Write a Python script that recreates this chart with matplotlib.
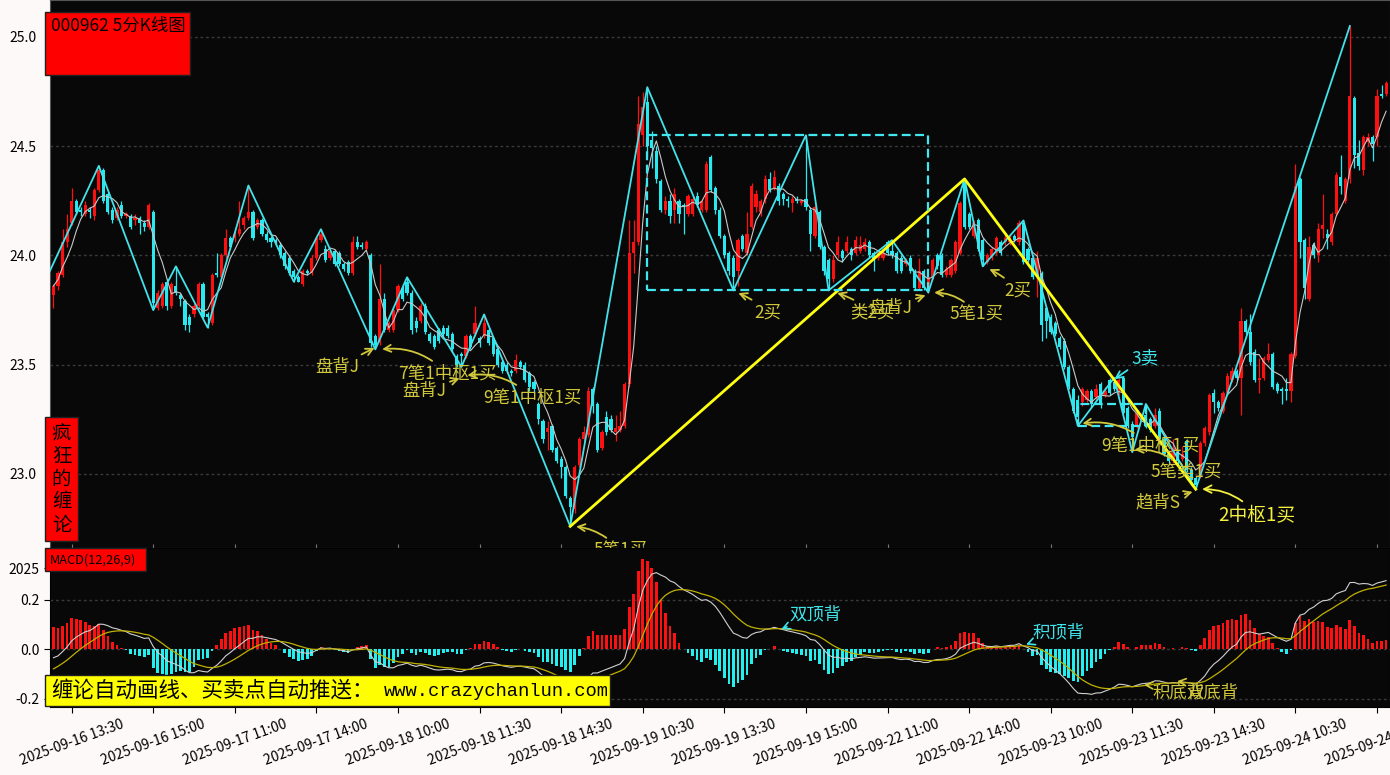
import numpy as np
import pandas as pd
import matplotlib
matplotlib.use('Agg')
import matplotlib.pyplot as plt
from matplotlib.patches import Rectangle

plt.rcParams['font.family'] = ['Noto Sans CJK SC', 'DejaVu Sans']
plt.rcParams['axes.unicode_minus'] = False

days = ['2025-09-16', '2025-09-17', '2025-09-18', '2025-09-19',
        '2025-09-22', '2025-09-23', '2025-09-24']
first_bar = '2025-09-16 13:10'

opens = [
    23.82, 23.86, 23.91, 24.06, 24.15, 24.25, 24.21, 24.19, 24.21, 24.18,
    24.30, 24.39, 24.28, 24.21, 24.17, 24.23, 24.18, 24.18, 24.16, 24.17,
    24.15, 24.13, 24.20, 23.76, 23.77, 23.88, 23.77, 23.86, 23.82, 23.79,
    23.72, 23.73, 23.77, 23.87, 23.73, 23.69, 23.92, 23.90, 24.00, 24.08,
    24.08, 24.10, 24.14, 24.17, 24.20, 24.13, 24.16, 24.10, 24.08, 24.07,
    24.05, 24.01, 23.99, 23.93, 23.90, 23.87, 23.93, 23.92, 23.99, 24.07,
    24.03, 23.99, 24.02, 24.01, 23.96, 23.97, 23.92, 24.06, 24.05, 24.03,
    24.00, 23.63, 23.60, 23.80, 23.66, 23.66, 23.75, 23.85, 23.88, 23.83,
    23.70, 23.70, 23.77, 23.64, 23.63, 23.66, 23.67, 23.67, 23.64, 23.54,
    23.55, 23.54, 23.63, 23.64, 23.62, 23.63, 23.66, 23.62, 23.57, 23.51,
    23.50, 23.47, 23.47, 23.51, 23.50, 23.46, 23.42, 23.32, 23.24, 23.19,
    23.22, 23.12, 23.07, 23.03, 22.89, 22.84, 23.04, 23.16, 23.18, 23.39,
    23.32, 23.12, 23.26, 23.25, 23.19, 23.20, 23.22, 23.41, 24.01, 24.06,
    24.55, 24.70, 24.53, 24.48, 24.34, 24.21, 24.25, 24.21, 24.25, 24.23,
    24.19, 24.19, 24.27, 24.21, 24.21, 24.45, 24.31, 24.21, 24.09, 24.01,
    23.99, 23.93, 24.09, 24.01, 24.13, 24.22, 24.20, 24.26, 24.35, 24.31,
    24.32, 24.28, 24.26, 24.24, 24.26, 24.24, 24.26, 24.21, 24.09, 24.20,
    24.04, 23.98, 23.89, 24.00, 24.02, 24.02, 24.03, 24.01, 24.02, 24.03,
    24.06, 24.01, 23.99, 23.99, 24.06, 24.02, 24.01, 23.99, 23.96, 23.99,
    23.93, 23.85, 23.93, 23.84, 23.90, 24.00, 24.00, 23.91, 23.91, 23.93,
    24.01, 24.33, 24.19, 24.09, 24.16, 24.07, 23.97, 23.99, 24.01, 24.06,
    24.06, 24.06, 24.09, 24.06, 24.15, 24.03, 23.99, 23.91, 23.92, 23.76,
    23.72, 23.69, 23.62, 23.61, 23.49, 23.39, 23.34, 23.33, 23.34, 23.38,
    23.35, 23.41, 23.36, 23.43, 23.42, 23.37, 23.44, 23.30, 23.23, 23.22,
    23.25, 23.27, 23.25, 23.22, 23.29, 23.16, 23.09, 23.06, 23.10, 23.07,
    23.15, 23.02, 22.98, 22.99, 23.14, 23.19, 23.37, 23.33, 23.29, 23.37,
    23.43, 23.47, 23.44, 23.70, 23.65, 23.56, 23.43, 23.44, 23.52, 23.55,
    23.41, 23.39, 23.39, 23.38, 23.54, 24.35, 24.07, 23.80, 24.05, 24.00,
    24.12, 24.10, 24.06, 24.19, 24.36, 24.25, 24.35, 24.72, 24.47, 24.39,
    24.52, 24.54, 24.54, 24.74, 24.74]

closes = [
    23.86, 23.92, 24.06, 24.12, 24.25, 24.20, 24.20, 24.23, 24.20, 24.30,
    24.39, 24.25, 24.20, 24.16, 24.21, 24.18, 24.19, 24.13, 24.17, 24.15,
    24.13, 24.23, 23.78, 23.83, 23.87, 23.77, 23.87, 23.83, 23.80, 23.68,
    23.68, 23.77, 23.87, 23.72, 23.72, 23.91, 23.91, 24.00, 24.08, 24.04,
    24.10, 24.12, 24.17, 24.20, 24.08, 24.16, 24.10, 24.07, 24.06, 24.06,
    24.00, 23.95, 23.92, 23.90, 23.88, 23.93, 23.92, 23.99, 24.08, 24.10,
    23.98, 24.02, 23.96, 23.96, 23.94, 23.92, 24.06, 24.04, 24.04, 24.06,
    23.60, 23.59, 23.80, 23.66, 23.69, 23.75, 23.86, 23.80, 23.83, 23.66,
    23.67, 23.77, 23.65, 23.61, 23.58, 23.61, 23.64, 23.63, 23.57, 23.50,
    23.54, 23.63, 23.58, 23.69, 23.60, 23.69, 23.60, 23.55, 23.50, 23.47,
    23.47, 23.46, 23.52, 23.49, 23.43, 23.40, 23.39, 23.25, 23.16, 23.21,
    23.11, 23.06, 23.03, 22.90, 22.85, 23.03, 23.16, 23.19, 23.38, 23.31,
    23.11, 23.19, 23.19, 23.20, 23.21, 23.22, 23.41, 24.01, 24.06, 24.60,
    24.68, 24.50, 24.49, 24.35, 24.21, 24.25, 24.18, 24.28, 24.19, 24.22,
    24.27, 24.26, 24.23, 24.25, 24.42, 24.30, 24.21, 24.09, 24.00, 23.93,
    23.90, 24.07, 24.03, 24.10, 24.32, 24.28, 24.25, 24.35, 24.30, 24.36,
    24.25, 24.26, 24.25, 24.26, 24.25, 24.25, 24.22, 24.10, 24.22, 24.04,
    23.93, 23.89, 23.98, 24.06, 23.99, 24.06, 24.00, 24.07, 24.05, 24.06,
    24.00, 23.98, 24.01, 24.01, 24.01, 24.00, 23.93, 23.93, 23.98, 23.93,
    23.85, 23.93, 23.85, 23.90, 23.98, 23.95, 23.91, 23.94, 23.98, 24.06,
    24.24, 24.13, 24.13, 24.15, 24.03, 23.98, 24.00, 24.03, 24.08, 24.01,
    24.08, 24.09, 24.07, 24.15, 23.97, 23.98, 23.90, 23.99, 23.68, 23.70,
    23.65, 23.64, 23.58, 23.49, 23.40, 23.29, 23.26, 23.39, 23.38, 23.32,
    23.39, 23.32, 23.38, 23.37, 23.39, 23.43, 23.28, 23.22, 23.17, 23.28,
    23.27, 23.22, 23.20, 23.27, 23.16, 23.09, 23.06, 23.12, 23.06, 23.09,
    23.02, 22.97, 22.95, 23.14, 23.21, 23.36, 23.33, 23.30, 23.37, 23.45,
    23.47, 23.44, 23.70, 23.65, 23.51, 23.43, 23.44, 23.53, 23.55, 23.40,
    23.38, 23.38, 23.38, 23.55, 24.32, 24.06, 23.85, 24.04, 24.00, 24.12,
    24.14, 24.08, 24.19, 24.37, 24.32, 24.35, 24.73, 24.46, 24.41, 24.54,
    24.54, 24.51, 24.73, 24.73, 24.79]

highs = [
    23.87, 23.93, 24.12, 24.19, 24.31, 24.26, 24.22, 24.25, 24.22, 24.31,
    24.41, 24.40, 24.29, 24.22, 24.22, 24.25, 24.20, 24.19, 24.19, 24.18,
    24.16, 24.24, 24.21, 23.84, 23.88, 23.89, 23.88, 23.95, 23.83, 23.80,
    23.73, 23.78, 23.88, 23.88, 23.74, 23.92, 24.01, 24.01, 24.12, 24.09,
    24.11, 24.25, 24.18, 24.32, 24.21, 24.17, 24.17, 24.11, 24.09, 24.08,
    24.06, 24.02, 24.00, 23.94, 23.91, 23.94, 23.94, 24.00, 24.09, 24.12,
    24.05, 24.03, 24.03, 24.02, 23.97, 23.98, 24.09, 24.09, 24.06, 24.07,
    24.01, 23.64, 23.96, 23.83, 23.70, 23.76, 23.87, 23.87, 23.90, 23.84,
    23.72, 23.78, 23.78, 23.65, 23.64, 23.67, 23.68, 23.68, 23.65, 23.55,
    23.56, 23.64, 23.64, 23.77, 23.63, 23.73, 23.67, 23.63, 23.58, 23.52,
    23.51, 23.48, 23.55, 23.52, 23.51, 23.47, 23.43, 23.33, 23.25, 23.24,
    23.23, 23.13, 23.08, 23.04, 22.90, 23.04, 23.17, 23.22, 23.40, 23.40,
    23.33, 23.20, 23.29, 23.27, 23.27, 23.29, 23.42, 24.16, 24.16, 24.73,
    24.75, 24.77, 24.57, 24.50, 24.35, 24.27, 24.28, 24.31, 24.26, 24.24,
    24.28, 24.27, 24.29, 24.26, 24.43, 24.46, 24.32, 24.22, 24.10, 24.02,
    24.00, 24.08, 24.10, 24.20, 24.33, 24.30, 24.26, 24.37, 24.38, 24.39,
    24.33, 24.29, 24.27, 24.27, 24.27, 24.26, 24.55, 24.22, 24.23, 24.21,
    24.05, 23.99, 24.00, 24.09, 24.03, 24.09, 24.04, 24.09, 24.09, 24.08,
    24.07, 24.02, 24.02, 24.03, 24.07, 24.07, 24.02, 24.00, 23.99, 24.00,
    23.94, 23.99, 23.94, 23.91, 23.99, 24.01, 24.01, 23.95, 23.99, 24.07,
    24.25, 24.35, 24.20, 24.16, 24.17, 24.08, 24.01, 24.04, 24.09, 24.07,
    24.10, 24.10, 24.10, 24.16, 24.16, 24.04, 24.00, 24.02, 23.93, 23.77,
    23.73, 23.70, 23.63, 23.62, 23.50, 23.40, 23.36, 23.40, 23.39, 23.39,
    23.41, 23.42, 23.40, 23.44, 23.44, 23.44, 23.45, 23.31, 23.24, 23.29,
    23.28, 23.32, 23.26, 23.30, 23.30, 23.17, 23.10, 23.16, 23.11, 23.13,
    23.16, 23.03, 22.99, 23.15, 23.22, 23.37, 23.39, 23.34, 23.38, 23.46,
    23.49, 23.48, 23.76, 23.71, 23.73, 23.57, 23.53, 23.54, 23.60, 23.56,
    23.42, 23.40, 23.44, 23.56, 24.42, 24.36, 24.08, 24.09, 24.06, 24.15,
    24.28, 24.12, 24.20, 24.38, 24.46, 24.36, 25.05, 24.73, 24.53, 24.55,
    24.56, 24.55, 24.76, 24.78, 24.80]

lows = [
    23.76, 23.84, 23.90, 24.04, 24.14, 24.19, 24.18, 24.18, 24.17, 24.16,
    24.29, 24.24, 24.19, 24.15, 24.16, 24.17, 24.17, 24.12, 24.14, 24.10,
    24.11, 24.12, 23.75, 23.75, 23.76, 23.75, 23.76, 23.82, 23.77, 23.66,
    23.65, 23.72, 23.76, 23.71, 23.67, 23.68, 23.90, 23.89, 23.99, 24.03,
    24.06, 24.09, 24.12, 24.16, 24.07, 24.12, 24.09, 24.06, 24.04, 24.05,
    23.99, 23.94, 23.91, 23.88, 23.88, 23.86, 23.91, 23.91, 23.98, 24.06,
    23.97, 23.98, 23.95, 23.95, 23.93, 23.91, 23.91, 24.03, 24.03, 24.02,
    23.58, 23.57, 23.59, 23.65, 23.65, 23.65, 23.74, 23.79, 23.82, 23.64,
    23.65, 23.69, 23.64, 23.60, 23.57, 23.60, 23.63, 23.62, 23.56, 23.49,
    23.49, 23.53, 23.57, 23.63, 23.58, 23.62, 23.59, 23.54, 23.49, 23.46,
    23.46, 23.45, 23.46, 23.48, 23.42, 23.38, 23.37, 23.23, 23.14, 23.11,
    23.10, 23.05, 22.98, 22.89, 22.76, 22.82, 23.03, 23.15, 23.17, 23.28,
    23.10, 23.11, 23.18, 23.19, 23.15, 23.19, 23.21, 23.40, 23.92, 24.05,
    24.50, 24.45, 24.40, 24.33, 24.20, 24.19, 24.15, 24.15, 24.15, 24.10,
    24.18, 24.18, 24.22, 24.20, 24.20, 24.29, 24.19, 24.08, 23.99, 23.91,
    23.84, 23.86, 24.02, 24.00, 24.12, 24.20, 24.18, 24.24, 24.29, 24.30,
    24.23, 24.23, 24.22, 24.20, 24.24, 24.23, 24.21, 24.02, 24.08, 24.03,
    23.91, 23.84, 23.88, 23.99, 23.97, 24.01, 23.98, 24.00, 24.01, 24.02,
    23.99, 23.93, 23.98, 23.98, 24.00, 23.99, 23.92, 23.92, 23.95, 23.92,
    23.84, 23.84, 23.84, 23.83, 23.89, 23.94, 23.90, 23.90, 23.90, 23.92,
    24.00, 24.12, 24.12, 24.08, 24.02, 23.95, 23.96, 23.98, 24.00, 24.00,
    24.05, 24.05, 24.06, 24.05, 23.96, 23.97, 23.89, 23.81, 23.61, 23.62,
    23.64, 23.63, 23.57, 23.48, 23.39, 23.28, 23.22, 23.31, 23.33, 23.30,
    23.34, 23.30, 23.35, 23.36, 23.38, 23.36, 23.27, 23.21, 23.10, 23.21,
    23.24, 23.21, 23.19, 23.21, 23.15, 23.08, 23.05, 23.05, 23.04, 23.06,
    23.01, 22.95, 22.93, 22.98, 23.13, 23.18, 23.28, 23.29, 23.28, 23.36,
    23.42, 23.43, 23.27, 23.64, 23.50, 23.42, 23.37, 23.43, 23.51, 23.39,
    23.37, 23.32, 23.34, 23.33, 23.53, 23.99, 23.80, 23.79, 23.99, 23.97,
    24.08, 24.03, 24.05, 24.18, 24.28, 24.24, 24.33, 24.40, 24.39, 24.37,
    24.50, 24.43, 24.50, 24.72, 24.73]

# strokes (bi), segment and pivot zones
bi_idx = [-1, 10, 22, 27, 34, 43, 53, 59, 71, 78, 90, 95, 114, 131, 150, 166,
          171, 185, 193, 201, 205, 214, 226, 234, 238, 241, 252, 286]
bi_px = [23.92, 24.41, 23.75, 23.95, 23.67, 24.32, 23.88, 24.12, 23.57, 23.90,
         23.49, 23.73, 22.76, 24.77, 23.84, 24.55, 23.84, 24.07, 23.83, 24.35,
         23.95, 24.16, 23.22, 23.44, 23.10, 23.32, 22.93, 25.05]
seg_idx = [114, 201, 252]
seg_px = [22.76, 24.35, 22.93]
zs_boxes = [(131, 193, 23.84, 24.55), (226, 241, 23.22, 23.32)]

# MACD(12,26,9) state at the first bar
dif_start = -0.035
dea_start = -0.080

# signal labels: text, label x, label y, arrow tip x, tip y, colour, curve
price_notes = [
    ('盘背J', 62.6, 23.49, 71.1, 23.58, 'y', 0.0),
    ('7笔1中枢1买', 86.8, 23.46, 72.2, 23.57, 'y', 0.25),
    ('盘背J', 81.7, 23.38, 89.9, 23.44, 'y', 0.0),
    ('9笔1中枢1买', 105.6, 23.35, 91.0, 23.45, 'y', 0.25),
    ('5笔1买', 125.0, 22.65, 115.0, 22.76, 'y', 0.2),
    ('2买', 157.6, 23.74, 150.8, 23.83, 'y', 0.1),
    ('类2买', 180.6, 23.74, 172.6, 23.83, 'y', 0.1),
    ('盘背J', 184.5, 23.76, 192.7, 23.82, 'y', 0.0),
    ('5笔1买', 203.7, 23.73, 194.0, 23.83, 'y', 0.25),
    ('2买', 212.8, 23.84, 206.2, 23.94, 'y', 0.1),
    ('3卖', 240.8, 23.53, 233.8, 23.43, 'c', 0.0),
    ('9笔1中枢1买', 241.9, 23.13, 226.7, 23.23, 'y', 0.25),
    ('5笔类1买', 250.0, 23.01, 238.2, 23.11, 'y', 0.25),
    ('趋背S', 243.7, 22.87, 251.6, 22.92, 'y', 0.0),
    ('2中枢1买', 265.5, 22.81, 253.1, 22.93, 'Y', 0.25),
]
macd_notes = [
    ('双顶背', 168.0, 0.140, 160.3, 0.078, 'c', 0.0),
    ('积顶背', 221.8, 0.069, 214.3, 0.016, 'c', 0.0),
    ('积底背', 248.1, -0.178, 240.3, -0.145, 'y', 0.1),
    ('双底背', 255.6, -0.174, 247.6, -0.129, 'y', 0.1),
]

# ---- derived series ----
o = np.array(opens)
c = np.array(closes)
h = np.array(highs)
l = np.array(lows)
n = len(c)
x = np.arange(n)

def session_times():
    out = []
    for start, end in [(9 * 60 + 35, 11 * 60 + 30), (13 * 60 + 5, 15 * 60)]:
        for t in range(start, end + 1, 5):
            out.append('%02d:%02d' % (t // 60, t % 60))
    return out

stamps = [d + ' ' + t for d in days for t in session_times()]
k0 = stamps.index(first_bar)
stamps = stamps[k0:k0 + n]
tick_pos = list(range(4, n, 18))
tick_lab = [stamps[i] for i in tick_pos]

ma5 = pd.Series(c).rolling(5, min_periods=1).mean().values

ema12 = c[0]
ema26 = c[0] - dif_start
dea = dea_start
difs, deas = [dif_start], [dea_start]
for p in c[1:]:
    ema12 += 2 / 13 * (p - ema12)
    ema26 += 2 / 27 * (p - ema26)
    d = ema12 - ema26
    dea += 2 / 10 * (d - dea)
    difs.append(d)
    deas.append(dea)
difs = np.array(difs)
deas = np.array(deas)
hist = 2 * (difs - deas)

# ---- drawing ----
RED = '#ff1010'
CYAN = '#28e8f0'
BG = '#080808'
cols = {'y': '#d2c83c', 'Y': '#f4f040', 'c': '#3ee6ec'}

fig = plt.figure(figsize=(13.9, 7.75), dpi=100, facecolor='#fcf9f8')
ax = fig.add_axes([50 / 1390, 1 - 548 / 775, 1340 / 1390, 548 / 775], facecolor=BG)
ax2 = fig.add_axes([50 / 1390, 1 - 707 / 775, 1340 / 1390, 159 / 775], facecolor=BG, sharex=ax)

# candles
colour = np.where(c >= o, RED, CYAN)
ax.vlines(x, l, h, colors=colour, lw=0.9, zorder=2)
ax.bar(x, np.maximum(np.abs(c - o), 0.006), bottom=np.minimum(o, c), width=0.7,
       color=colour, linewidth=0, zorder=3)
ax.plot(x, ma5, color='#c8c8c8', lw=0.8, zorder=4)

ax.plot(bi_idx, bi_px, color='#44e2ea', lw=1.3, zorder=5)
ax.plot(seg_idx, seg_px, color='#ffff10', lw=2.0, zorder=6)
for x0, x1, y0, y1 in zs_boxes:
    ax.add_patch(Rectangle((x0, y0), x1 - x0, y1 - y0, fill=False, ec='#40e6f0',
                           lw=1.6, ls=(0, (4, 2)), zorder=6))

for yv in [25.0, 24.5, 24.0, 23.5, 23.0]:
    ax.axhline(yv, color='#3a3a3a', lw=1, ls=(0, (2, 2)), zorder=1)

ax.set_xlim(-0.77, 294.86)
ax.set_ylim(22.661, 25.169)
ax.set_yticks([25.0, 24.5, 24.0, 23.5, 23.0])
ax.set_yticklabels(['25.0', '24.5', '24.0', '23.5', '23.0'])
ax.tick_params(axis='y', length=0, labelsize=10, pad=10)
ax.tick_params(axis='x', length=3, direction='in', color='#777777', labelbottom=False)
for s in ax.spines.values():
    s.set_color('#555555')

for text, tx, ty, px, py, ck, rad in price_notes:
    fs = 13.5 if ck == 'Y' else 12.5
    ax.annotate(text, xy=(px, py), xytext=(tx, ty), color=cols[ck], fontsize=fs,
                ha='center', va='center', annotation_clip=False, clip_on=True, zorder=7,
                arrowprops=dict(arrowstyle='->', color=cols[ck], lw=1.3, shrinkA=1, shrinkB=1,
                                connectionstyle='arc3,rad=%s' % rad))

# MACD panel
ax2.bar(x, hist, width=0.6, color=np.where(hist >= 0, RED, '#22f0f0'), linewidth=0, zorder=2)
ax2.plot(x, difs, color='#d0d0d0', lw=0.8, zorder=3)
ax2.plot(x, deas, color='#c0b000', lw=0.9, zorder=3)
for yv in [0.2, 0.0, -0.2]:
    ax2.axhline(yv, color='#3a3a3a', lw=1, ls=(0, (2, 2)), zorder=1)
ax2.set_ylim(-0.234, 0.408)
ax2.set_yticks([0.327, 0.2, 0.0, -0.2])
ax2.set_yticklabels(['2025', '0.2', '0.0', '-0.2'])
ax2.tick_params(axis='y', length=4, labelsize=10)
ax2.set_xticks(tick_pos)
ax2.set_xticklabels(tick_lab, rotation=20, ha='center', fontsize=10)
ax2.tick_params(axis='x', length=4)

for text, tx, ty, px, py, ck, rad in macd_notes:
    ax2.annotate(text, xy=(px, py), xytext=(tx, ty), color=cols[ck], fontsize=12.5,
                 ha='center', va='center', annotation_clip=False, clip_on=True, zorder=7,
                 arrowprops=dict(arrowstyle='->', color=cols[ck], lw=1.2, shrinkA=1, shrinkB=1,
                                 connectionstyle='arc3,rad=%s' % rad))

# labels in boxes
W, H = 1390.0, 775.0
def box(x0, y0, x1, y1, fc):
    fig.add_artist(Rectangle((x0 / W, 1 - y1 / H), (x1 - x0) / W, (y1 - y0) / H,
                             transform=fig.transFigure, fc=fc, ec='#202020', lw=1, zorder=10))

box(45, 12, 190, 75, '#ff0000')
fig.text(51 / W, 1 - 26 / H, '000962 5分K线图', fontsize=12.5, va='center', ha='left', zorder=11)

box(45, 417, 78, 541, '#ff0000')
for k, ch in enumerate('疯狂的缠论'):
    fig.text(61.5 / W, 1 - (433 + 23 * k) / H, ch, fontsize=14, ha='center', va='center', zorder=11)

box(45, 548, 146, 571, '#ff0000')
fig.text(50 / W, 1 - 560 / H, 'MACD(12,26,9)', fontsize=9.2, va='center', ha='left', zorder=11)

box(45, 675, 610, 706, '#ffff00')
fig.text(51 / W, 1 - 691 / H, '缠论自动画线、买卖点自动推送：', fontsize=15.5, va='center',
         ha='left', zorder=11)
fig.text(384 / W, 1 - 691 / H, 'www.crazychanlun.com', fontsize=13.5, va='center', ha='left',
         family='Liberation Mono', zorder=11)

fig.savefig('out.png', dpi=100, facecolor=fig.get_facecolor())
